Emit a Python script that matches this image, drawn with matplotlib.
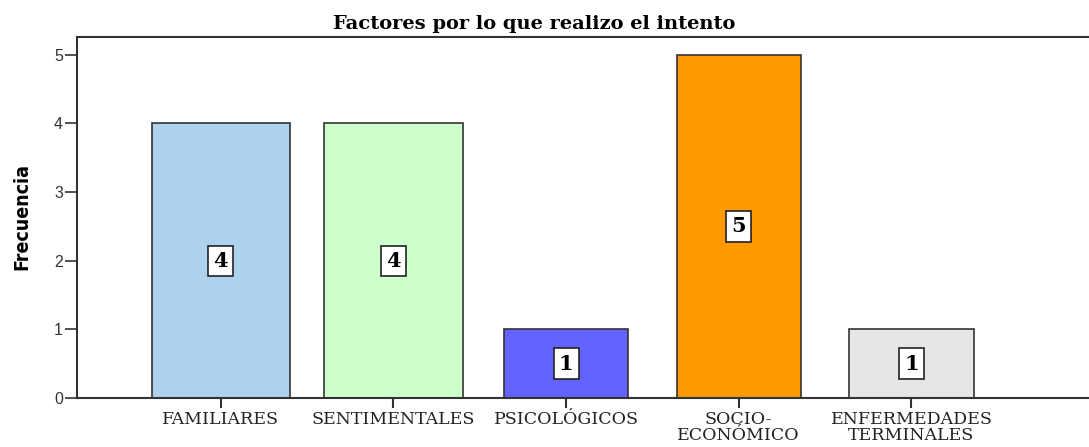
import matplotlib.pyplot as plt

# data
categorias = ["FAMILIARES", "SENTIMENTALES", "PSICOLÓGICOS",
              "SOCIO-\nECONÓMICO", "ENFERMEDADES\nTERMINALES"]
frecuencias = [4, 4, 1, 5, 1]

# styling
colores = ["#AED1EE", "#CCFFCC", "#6363FF", "#FF9900", "#E6E6E6"]
anchos = [0.80, 0.80, 0.72, 0.72, 0.72]

fig = plt.figure(figsize=(10.89, 4.47), dpi=100)
ax = fig.add_axes([77 / 1089, 49 / 447, 1.005 - 77 / 1089, 361 / 447])

x = range(len(categorias))
ax.bar(x, frecuencias, width=anchos, color=colores,
       edgecolor="#333333", linewidth=1.2, zorder=2)

# value labels in white boxes in the middle of each bar
for xi, v in zip(x, frecuencias):
    ax.text(xi, v / 2, str(v), ha="center", va="center",
            fontsize=15, fontweight="bold", family="DejaVu Serif",
            bbox=dict(boxstyle="square,pad=0.25", fc="white",
                      ec="#222222", lw=1.2), zorder=3)

ax.set_xlim(-0.833, 5.06)
ax.set_ylim(0, 5.26)
ax.set_yticks(range(6))
ax.set_xticks(list(x))
ax.set_xticklabels(categorias, family="DejaVu Serif", fontsize=12.5,
                   linespacing=1.0, color="#222222")
for lab in ax.get_yticklabels():
    lab.set_family("Liberation Sans")
    lab.set_fontsize(11.5)
    lab.set_color("#333333")

ax.tick_params(axis="y", length=9, width=1.2, pad=1, color="#333333")
ax.tick_params(axis="x", length=7, width=1.5, pad=2, color="#333333")
ax.spines["right"].set_visible(False)
for s in ["left", "top", "bottom"]:
    ax.spines[s].set_linewidth(1.5)
    ax.spines[s].set_color("#333333")

fig.text(534 / 1089, 1 - 29 / 447, "Factores por lo que realizo el intento",
         ha="center", va="baseline", family="DejaVu Serif",
         fontweight="bold", fontsize=14)
fig.text(22 / 1089, 1 - 217 / 447, "Frecuencia", rotation=90,
         ha="center", va="center", family="DejaVu Sans",
         fontstretch="condensed", fontweight="bold", fontsize=14)

fig.savefig("out.png", dpi=100)
